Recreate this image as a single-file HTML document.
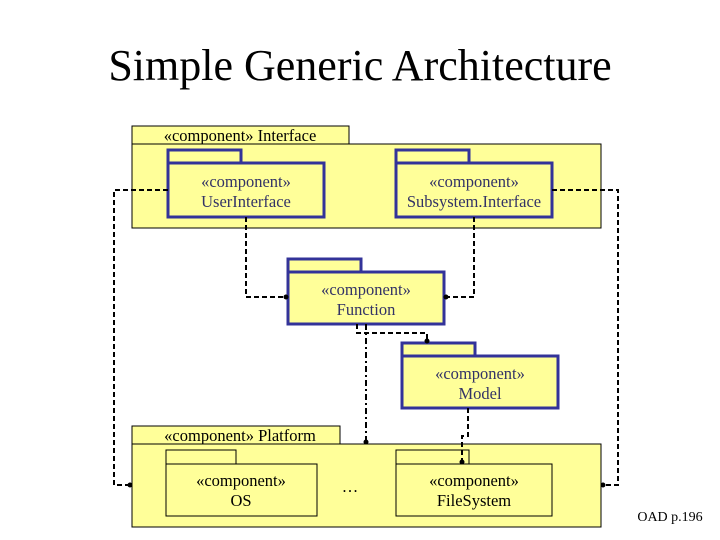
<!DOCTYPE html><html><head><style>
body{margin:0;width:720px;height:540px;background:#fff;overflow:hidden;font-family:"Liberation Serif",serif}
</style></head><body>
<svg width="720" height="540" style="position:absolute;left:0;top:0" font-family="Liberation Serif, serif">
<text x="360" y="80" font-size="44" text-anchor="middle">Simple Generic Architecture</text>
<g fill="#ffff99" stroke="#000" stroke-width="1">
<rect x="132" y="126" width="217" height="18"/><rect x="132" y="144" width="469" height="84"/>
<rect x="132" y="426" width="208" height="18"/><rect x="132" y="444" width="469" height="83"/>
<rect x="166" y="450" width="70" height="14"/><rect x="166" y="464" width="151" height="52"/>
<rect x="396" y="450" width="73" height="14"/><rect x="396" y="464" width="156" height="52"/>
</g>
<g fill="#ffff99" stroke="#333399" stroke-width="3">
<rect x="168" y="150" width="73" height="13"/><rect x="168" y="163" width="156" height="54"/>
<rect x="396" y="150" width="73" height="13"/><rect x="396" y="163" width="156" height="54"/>
<rect x="288" y="259" width="73" height="13"/><rect x="288" y="272" width="156" height="52"/>
<rect x="402" y="343" width="73" height="13"/><rect x="402" y="356" width="156" height="52"/>
</g>
<g fill="none" stroke="#000" stroke-width="2" stroke-dasharray="5,3">
<polyline points="168,190 114,190 114,485 130,485"/>
<polyline points="246,217 246,297 286,297"/>
<polyline points="474,217 474,297 446,297"/>
<polyline points="552,190 618,190 618,485 603,485"/>
<polyline points="357,324 357,333 427,333 427,341"/>
<polyline points="468,408 468,436 462,436 462,462"/>
</g>
<line x1="366" y1="324" x2="366" y2="442" stroke="#000" stroke-width="2" stroke-dasharray="6,3,2,3"/>
<g fill="#000"><circle cx="130" cy="485" r="2.5"/><circle cx="286" cy="297" r="2.5"/><circle cx="446" cy="297" r="2.5"/><circle cx="603" cy="485" r="2.5"/><circle cx="427" cy="341" r="2.5"/><circle cx="462" cy="462" r="2.5"/><circle cx="366" cy="442" r="2.5"/></g>
<g font-size="16.5" text-anchor="middle">
<text x="240" y="141">«component» Interface</text>
<text x="240" y="441">«component» Platform</text>
<text x="241" y="486">«component»</text><text x="241" y="506">OS</text>
<text x="474" y="486">«component»</text><text x="474" y="506">FileSystem</text>
<text x="350" y="492">…</text>
</g>
<g font-size="16.5" text-anchor="middle" fill="#333366">
<text x="246" y="187">«component»</text><text x="246" y="207">UserInterface</text>
<text x="474" y="187">«component»</text><text x="474" y="207">Subsystem.Interface</text>
<text x="366" y="295">«component»</text><text x="366" y="315">Function</text>
<text x="480" y="379">«component»</text><text x="480" y="399">Model</text>
</g>
<text x="670" y="521" font-size="14" text-anchor="middle">OAD p.196</text>
</svg>
</body></html>
